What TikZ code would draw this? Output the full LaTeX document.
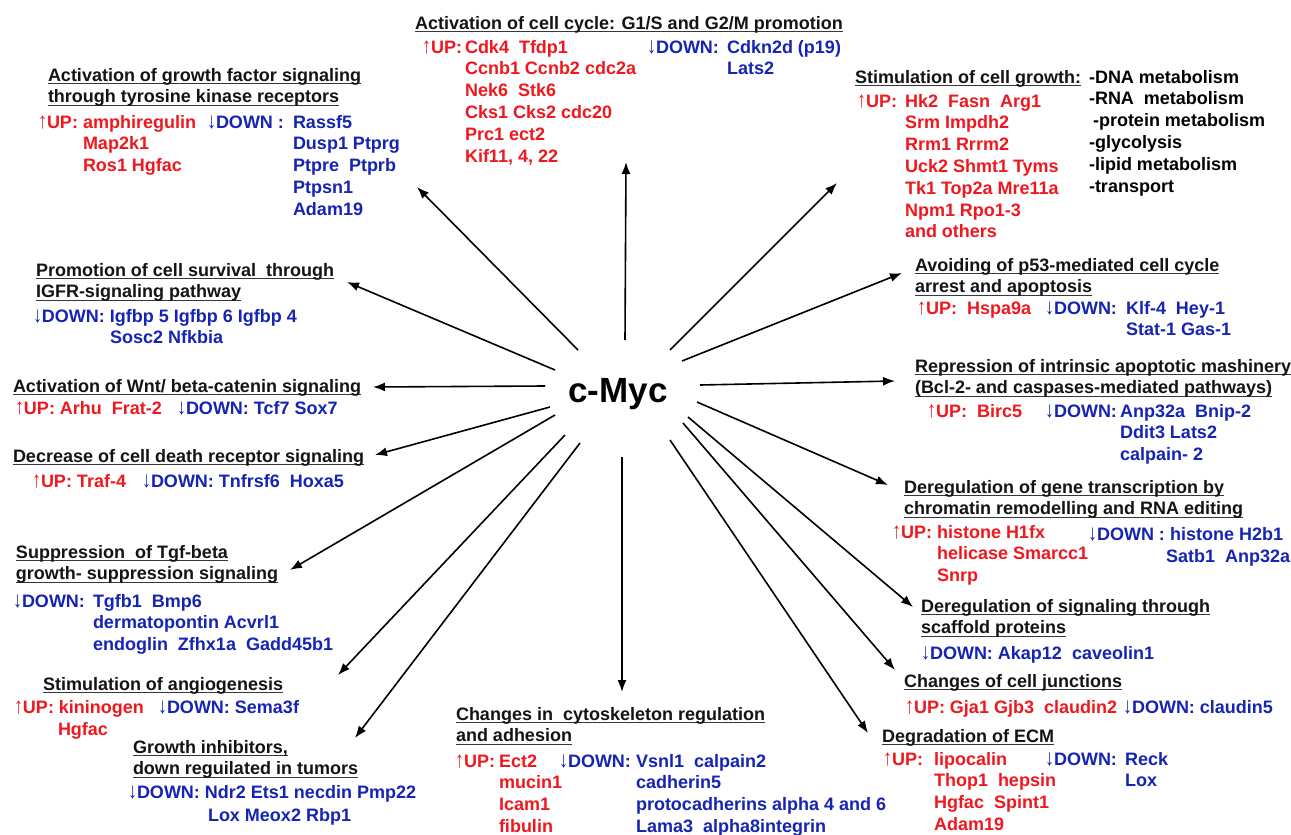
\documentclass[tikz,border=0pt]{standalone}
\usepackage{fontspec}
\usepackage{graphicx}
\setmainfont{Liberation Sans}
\usetikzlibrary{arrows.meta}
\definecolor{upred}{RGB}{238,24,30}
\definecolor{dnblue}{RGB}{22,36,180}
\definecolor{hdblack}{RGB}{20,20,20}
\newcommand\hul[1]{\setbox0=\hbox{#1}\rlap{\color{hdblack!85}\rule[-3.4pt]{\wd0}{1.7pt}}\box0}
\newcommand\uparr{{\mdseries\scalebox{1}[1.25]{↑}}}
\newcommand\dnarr{{\mdseries\raisebox{-0.6pt}{\scalebox{1}[1.25]{↓}}}}
\newcommand\ml[1]{\begin{tabular}[t]{@{}l@{}}#1\end{tabular}}
\begin{document}
\begin{tikzpicture}[x=1pt,y=-1pt,
  every node/.style={inner sep=0pt, outer sep=0pt, anchor=base west,
    font=\fontsize{18}{21.8}\selectfont\bfseries},
  hd/.style={text=hdblack},
  up/.style={text=upred},
  dn/.style={text=dnblue},
  bk/.style={text=black},
  arr/.style={draw=black, line width=1.6pt, -{Latex[length=12pt,width=9pt]}}]
\useasboundingbox[fill=white] (0,0) rectangle (1291,835);

% centre
\node[anchor=base, font=\fontsize{35}{40}\selectfont\bfseries] (myc) at (618,402) {c-Myc};

% A: growth factor signalling
\node[hd] (a-h) at (48,81) {\ml{\hul{Activation of growth factor signaling}\\\hul{through tyrosine kinase receptors}}};
\node[up] (a-up) at (38,128) {\uparr UP:};
\node[up] (a-ul) at (83,128) {\ml{amphiregulin\\Map2k1\\Ros1 Hgfac}};
\node[dn] (a-dn) at (207,128) {\dnarr DOWN :};
\node[dn] (a-dl) at (293,128) {\ml{Rassf5\\Dusp1 Ptprg\\Ptpre\ \ Ptprb\\Ptpsn1\\Adam19}};

% B: cell cycle
\node[hd] (b-h) at (415,29) {\hul{Activation of cell cycle: G1/S and G2/M promotion}};
\node[up] (b-up) at (422,53) {\uparr UP:};
\node[up] (b-ul) at (465,53) {\ml{Cdk4\ \ Tfdp1\\Ccnb1 Ccnb2 cdc2a\\Nek6\ \ Stk6\\Cks1 Cks2 cdc20\\Prc1 ect2\\Kif11, 4, 22}};
\node[dn] (b-dn) at (647,53) {\dnarr DOWN:};
\node[dn] (b-dl) at (727,53) {\ml{Cdkn2d (p19)\\Lats2}};

% C: cell growth
\node[hd] (c-h) at (855,83) {\hul{Stimulation of cell growth:}};
\node[bk] (c-bl) at (1089,83) {\ml{-DNA metabolism\\-RNA\ \ metabolism\\\hspace*{4pt}-protein metabolism\\-glycolysis\\-lipid metabolism\\-transport}};
\node[up] (c-up) at (857,107) {\uparr UP:};
\node[up] (c-ul) at (905,107) {\ml{Hk2\ \ Fasn\ \ Arg1\\Srm Impdh2\\Rrm1 Rrrm2\\Uck2 Shmt1 Tyms\\Tk1 Top2a Mre11a\\Npm1 Rpo1-3\\and others}};

% D: p53
\node[hd] (d-h) at (915,271) {\ml{\hul{Avoiding of p53-mediated cell cycle}\\\hul{arrest and apoptosis}}};
\node[up] (d-up) at (917,314) {\uparr UP:};
\node[up] (d-ul) at (967,314) {Hspa9a};
\node[dn] (d-dn) at (1045,314) {\dnarr DOWN:};
\node[dn] (d-dl) at (1126,314) {\ml{Klf-4\ \ Hey-1\\Stat-1 Gas-1}};

% E: intrinsic apoptosis
\node[hd] (e-h) at (915,372) {\ml{\hul{Repression of intrinsic apoptotic mashinery}\\\hul{(Bcl-2- and caspases-mediated pathways)}}};
\node[up] (e-up) at (927,417) {\uparr UP:};
\node[up] (e-ul) at (977,417) {Birc5};
\node[dn] (e-dn) at (1045,417) {\dnarr DOWN:};
\node[dn] (e-dl) at (1120,417) {\ml{Anp32a\ \ Bnip-2\\Ddit3 Lats2\\calpain- 2}};

% F: gene transcription
\node[hd] (f-h) at (904,493) {\ml{\hul{Deregulation of gene transcription by}\\\hul{chromatin remodelling and RNA editing}}};
\node[up] (f-up) at (892,538) {\uparr UP:};
\node[up] (f-ul) at (937,538) {\ml{histone H1fx\\helicase Smarcc1\\Snrp}};
\node[dn] (f-dn) at (1088,540) {\dnarr DOWN :};
\node[dn] (f-dl) at (1170,540) {histone H2b1};
\node[dn] (f-dl2) at (1166,562) {Satb1\ \ Anp32a};

% G: scaffold
\node[hd] (g-h) at (921,612) {\ml{\hul{Deregulation of signaling through}\\\hul{scaffold proteins}}};
\node[dn] (g-dn) at (921,659) {\dnarr DOWN: Akap12\ \ caveolin1};

% H: junctions
\node[hd] (h-h) at (904,687) {\hul{Changes of cell junctions}};
\node[up] (h-up) at (905,713) {\uparr UP: Gja1 Gjb3\ \ claudin2};
\node[dn] (h-dn) at (1123,713) {\dnarr DOWN: claudin5};

% I: ECM
\node[hd] (i-h) at (882,742) {\hul{Degradation of ECM}};
\node[up] (i-up) at (883,765) {\uparr UP:};
\node[up] (i-ul) at (934,765) {\ml{lipocalin\\Thop1\ \ hepsin\\Hgfac\ \ Spint1\\Adam19}};
\node[dn] (i-dn) at (1045,765) {\dnarr DOWN:};
\node[dn] (i-dl) at (1125,765) {\ml{Reck\\Lox}};

% J: cytoskeleton
\node[hd] (j-h) at (456,720) {\ml{\hul{Changes in\ \ cytoskeleton regulation}\\\hul{and adhesion}}};
\node[up] (j-up) at (455,767) {\uparr UP:};
\node[up] (j-ul) at (499,767) {\ml{Ect2\\mucin1\\Icam1\\fibulin}};
\node[dn] (j-dn) at (559,767) {\dnarr DOWN:};
\node[dn] (j-dl) at (636,767) {\ml{Vsnl1\ \ calpain2\\cadherin5\\protocadherins alpha 4 and 6\\Lama3\ \ alpha8integrin}};

% K: IGFR
\node[hd] (k-h) at (36,276) {\ml{\hul{Promotion of cell survival\ \ through}\\\hul{IGFR-signaling pathway}}};
\node[dn] (k-dn) at (33,322) {\dnarr DOWN: Igfbp 5 Igfbp 6 Igfbp 4};
\node[dn] (k-dl) at (110,343) {Sosc2 Nfkbia};

% L: Wnt
\node[hd] (l-h) at (13,392) {\hul{Activation of Wnt/ beta-catenin signaling}};
\node[up] (l-up) at (15,414) {\uparr UP: Arhu\ \ Frat-2};
\node[dn] (l-dn) at (177,414) {\dnarr DOWN: Tcf7 Sox7};

% M: death receptor
\node[hd] (m-h) at (13,462) {\hul{Decrease of cell death receptor signaling}};
\node[up] (m-up) at (32,487) {\uparr UP: Traf-4};
\node[dn] (m-dn) at (142,487) {\dnarr DOWN: Tnfrsf6\ \ Hoxa5};

% N: Tgf-beta
\node[hd] (n-h) at (16,558) {\ml{\hul{Suppression\ \ of Tgf-beta}\\\hul{growth- suppression signaling}}};
\node[dn] (n-dn) at (13,607) {\dnarr DOWN:};
\node[dn] (n-dl) at (93,607) {\ml{Tgfb1\ \ Bmp6\\dermatopontin Acvrl1\\endoglin\ \ Zfhx1a\ \ Gadd45b1}};

% O: angiogenesis
\node[hd] (o-h) at (43,690) {\hul{Stimulation of angiogenesis}};
\node[up] (o-up) at (14,713) {\uparr UP: kininogen};
\node[up] (o-ul) at (58,735) {Hgfac};
\node[dn] (o-dn) at (158,713) {\dnarr DOWN: Sema3f};

% P: growth inhibitors
\node[hd] (p-h) at (133,753) {\ml{\hul{Growth inhibitors,}\\\hul{down reguilated in tumors}}};
\node[dn] (p-dn) at (128,798) {\dnarr DOWN: Ndr2 Ets1 necdin Pmp22};
\node[dn] (p-dl) at (208,821) {Lox Meox2 Rbp1};

% arrow ends
\coordinate (s1) at (625,340);  \coordinate (t1) at (626,162);
\coordinate (s2) at (578,350);  \coordinate (t2) at (417,187);
\coordinate (s3) at (555,370);  \coordinate (t3) at (347,282);
\coordinate (s4) at (545,386);  \coordinate (t4) at (373,387);
\coordinate (s5) at (550,407);  \coordinate (t5) at (375,455);
\coordinate (s6) at (555,415);  \coordinate (t6) at (290,570);
\coordinate (s7) at (565,435);  \coordinate (t7) at (338,675);
\coordinate (s8) at (580,443);  \coordinate (t8) at (355,738);
\coordinate (s9) at (622,457);  \coordinate (t9) at (622,692);
\coordinate (s10) at (670,440); \coordinate (t10) at (868,733);
\coordinate (s11) at (683,423); \coordinate (t11) at (895,670);
\coordinate (s12) at (688,417); \coordinate (t12) at (913,607);
\coordinate (s13) at (697,402); \coordinate (t13) at (888,485);
\coordinate (s14) at (700,385); \coordinate (t14) at (895,381);
\coordinate (s15) at (682,361); \coordinate (t15) at (902,273);
\coordinate (s16) at (670,350); \coordinate (t16) at (837,183);

\foreach \i in {1,...,16} { \draw[arr] (s\i) -- (t\i); }
\end{tikzpicture}
\end{document}
